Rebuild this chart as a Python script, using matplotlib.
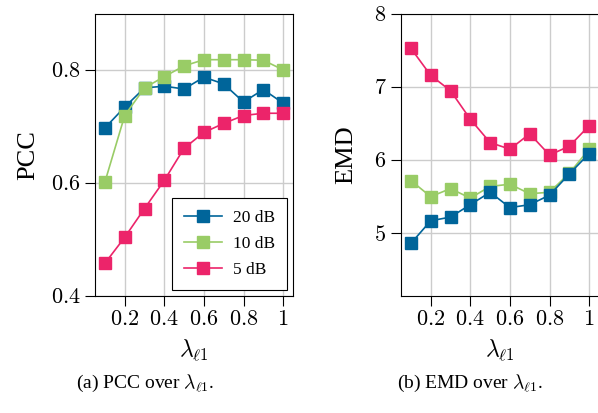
import matplotlib
matplotlib.use("Agg")
import matplotlib.pyplot as plt
from matplotlib.ticker import FixedLocator, FuncFormatter

plt.rcParams['font.family'] = ['Liberation Serif', 'DejaVu Serif']
plt.rcParams['mathtext.fontset'] = 'cm'

# lambda_l1 values
lam = [0.1, 0.2, 0.3, 0.4, 0.5, 0.6, 0.7, 0.8, 0.9, 1.0]

# PCC per SNR
pcc_20 = [0.698, 0.735, 0.769, 0.772, 0.767, 0.788, 0.776, 0.744, 0.766, 0.742]
pcc_10 = [0.602, 0.720, 0.769, 0.789, 0.808, 0.819, 0.819, 0.819, 0.818, 0.801]
pcc_5 = [0.458, 0.504, 0.555, 0.605, 0.662, 0.690, 0.706, 0.720, 0.724, 0.724]

# EMD per SNR
emd_20 = [4.86, 5.17, 5.22, 5.39, 5.56, 5.35, 5.39, 5.52, 5.81, 6.09]
emd_10 = [5.72, 5.50, 5.61, 5.48, 5.64, 5.67, 5.54, 5.56, 5.82, 6.15]
emd_5 = [7.53, 7.16, 6.95, 6.56, 6.24, 6.15, 6.36, 6.07, 6.19, 6.47]

labels = ['20 dB', '10 dB', '5 dB']
colors = ['#00659A', '#99CC66', '#EC246A']

xticks = [0.2, 0.4, 0.6, 0.8, 1.0]


def fmt(v, pos):
    s = ('%g' % v)
    return '$' + s + '$'


def style(ax, yticks):
    ax.set_xlim(0.05, 1.05)
    ax.xaxis.set_major_locator(FixedLocator(xticks))
    ax.yaxis.set_major_locator(FixedLocator(yticks))
    ax.xaxis.set_major_formatter(FuncFormatter(fmt))
    ax.yaxis.set_major_formatter(FuncFormatter(fmt))
    ax.grid(True, color='#cccccc', linewidth=1.0)
    ax.set_axisbelow(True)
    ax.tick_params(direction='out', length=7, width=0.8, labelsize=16,
                   top=False, right=False)
    ax.tick_params(axis='x', pad=4)
    for s in ax.spines.values():
        s.set_linewidth(0.8)
    ax.set_xlabel(r'$\lambda_{\ell 1}$', fontsize=17, labelpad=5)


fig = plt.figure(figsize=(5.98, 4.13), dpi=100)
ax1 = fig.add_axes([95 / 598, 117 / 413, 198 / 598, 282 / 413])
ax2 = fig.add_axes([401 / 598, 117 / 413, 198 / 598, 282 / 413])

for ys, lab, c in zip([pcc_20, pcc_10, pcc_5], labels, colors):
    ax1.plot(lam, ys, '-s', color=c, markersize=8.5, linewidth=1.2, label=lab)
style(ax1, [0.4, 0.6, 0.8])
ax1.set_ylim(0.4, 0.9)
ax1.set_ylabel('PCC', fontsize=19, labelpad=8)
leg = ax1.legend(loc='lower right', fontsize=12.5, frameon=True, fancybox=False,
                 edgecolor='black', framealpha=1, handlelength=2.2,
                 handletextpad=0.6, borderaxespad=0.35, labelspacing=0.55,
                 borderpad=0.7)
leg.get_frame().set_linewidth(0.8)

for ys, lab, c in zip([emd_5, emd_10, emd_20], labels[::-1], colors[::-1]):
    ax2.plot(lam, ys, '-s', color=c, markersize=8.5, linewidth=1.2, label=lab)
style(ax2, [5, 6, 7, 8])
ax2.set_ylim(4.14, 8)
ax2.set_ylabel('EMD', fontsize=19, labelpad=12)

fig.text(145 / 598, 1 - 383 / 413, r'(a) PCC over $\lambda_{\ell 1}$.',
         ha='center', va='center', fontsize=14)
fig.text(470 / 598, 1 - 383 / 413, r'(b) EMD over $\lambda_{\ell 1}$.',
         ha='center', va='center', fontsize=14)

fig.savefig('out.png', dpi=100)
